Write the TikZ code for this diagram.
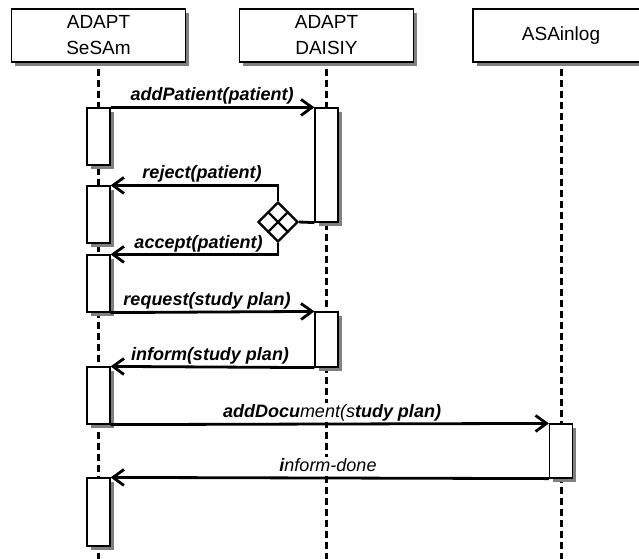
\documentclass[tikz,border=0pt]{standalone}
\usepackage{fontspec}
\setmainfont{Liberation Sans}
\usetikzlibrary{arrows.meta,shapes.geometric,calc}
\definecolor{boxgray}{RGB}{128,128,128}
\begin{document}
\begin{tikzpicture}[x=1pt,y=-1pt,
  head/.style={draw, line width=1.2pt, fill=white, minimum width=174pt,
    minimum height=53pt, inner sep=0pt, align=center, font=\fontsize{19}{26}\selectfont},
  act/.style={draw, line width=1.2pt, fill=white, minimum width=23pt, inner sep=0pt},
  shadowbox/.style={fill=boxgray},
  life/.style={line width=3pt, dash pattern=on 7pt off 4pt},
  msg/.style={line width=2.8pt, -{Straight Barb[length=11pt,width=16pt]}},
  plain/.style={line width=2.8pt},
  lbl/.style={fill=white, inner sep=1pt, anchor=base, font=\fontsize{18}{20}\selectfont\bfseries\itshape},
  branch/.style={diamond, draw, line width=2.4pt, fill=white, minimum width=40pt, minimum height=40pt, inner sep=0pt}
]
\useasboundingbox (0,0) rectangle (639,558);
\fill[white] (0,0) rectangle (639,558);
\coordinate (bot) at (0,559);

% drop shadows of the participant headers
\fill[shadowbox] (14.5,12.5) rectangle (189,66);
\fill[shadowbox] (242.5,12.5) rectangle (417,66);
\fill[shadowbox] (476.5,12.5) rectangle (652.5,66);

% participant headers
\node[head] (hs) at (98.5,35.5) {ADAPT\\SeSAm};
\node[head] (hd) at (326.5,35.5) {ADAPT\\DAISIY};
\node[head, minimum width=176pt] (ha) at (561,35.5) {ASAinlog};

% lifelines
\draw[life] ([yshift=-6pt]hs.south) -- (hs.south |- bot);
\draw[life] ([yshift=-6pt]hd.south) -- (hd.south |- bot);
\draw[life] ([yshift=-6pt]ha.south) -- (ha.south |- bot);

% drop shadows of the activation bars
\fill[shadowbox] (90.5,111.5) rectangle (113.5,168.5);
\fill[shadowbox] (90.5,189.5) rectangle (113.5,246.5);
\fill[shadowbox] (90.5,258.5) rectangle (113.5,315.5);
\fill[shadowbox] (90.5,370.5) rectangle (113.5,427.5);
\fill[shadowbox] (90.5,481.5) rectangle (113.5,549.5);
\fill[shadowbox] (318.5,111.5) rectangle (341.5,225.5);
\fill[shadowbox] (318.5,315.5) rectangle (341.5,370.5);
\fill[shadowbox] (553,427.5) rectangle (576,481.5);

% activation bars
\node[act, minimum height=57pt] (s1) at (98.5,136.5) {};
\node[act, minimum height=57pt] (s2) at (98.5,214.5) {};
\node[act, minimum height=57pt] (s3) at (98.5,283.5) {};
\node[act, minimum height=57pt] (s4) at (98.5,395.5) {};
\node[act, minimum height=68pt] (s5) at (98.5,512) {};
\node[act, minimum height=114pt] (d1) at (326.5,165) {};
\node[act, minimum height=55pt] (d2) at (326.5,339.5) {};
\node[act, minimum height=54pt] (a1) at (561,451) {};

% message labels
\node[lbl] (l1) at (212,100) {addPatient(patient)};
\node[lbl] (l2) at (202,178) {reject(patient)};
\node[lbl] (l3) at (198.5,248) {accept(patient)};
\node[lbl] (l4) at (207,305) {request(study plan)};
\node[lbl] (l5) at (210,360) {inform(study plan)};
\node[lbl] (l6) at (332,417) {addDocu\mdseries ment(s\bfseries tudy plan)};
\node[lbl] (l7) at (328,471) {i\mdseries nform-done};

% branch with its two outcomes
\node[branch] (br) at (278,222) {};
\draw[line width=2.4pt] ($(br.north)!0.5!(br.west)$) -- ($(br.south)!0.5!(br.east)$)
                        ($(br.north)!0.5!(br.east)$) -- ($(br.south)!0.5!(br.west)$);
\draw[plain] (br.east) -- (d1.south west);
\draw[msg] (br.north) |- (s2.north east);
\draw[msg] (br.south) |- (s3.north east);

% messages
\draw[msg] (s1.north east) -- (d1.north west);
\draw[msg] (s3.south east) -- (d2.north west);
\draw[msg] (d2.south west) -- (s4.north east);
\draw[msg] (s4.south east) -- (a1.north west);
\draw[msg] (a1.south west) -- (s5.north east);
\end{tikzpicture}
\end{document}
